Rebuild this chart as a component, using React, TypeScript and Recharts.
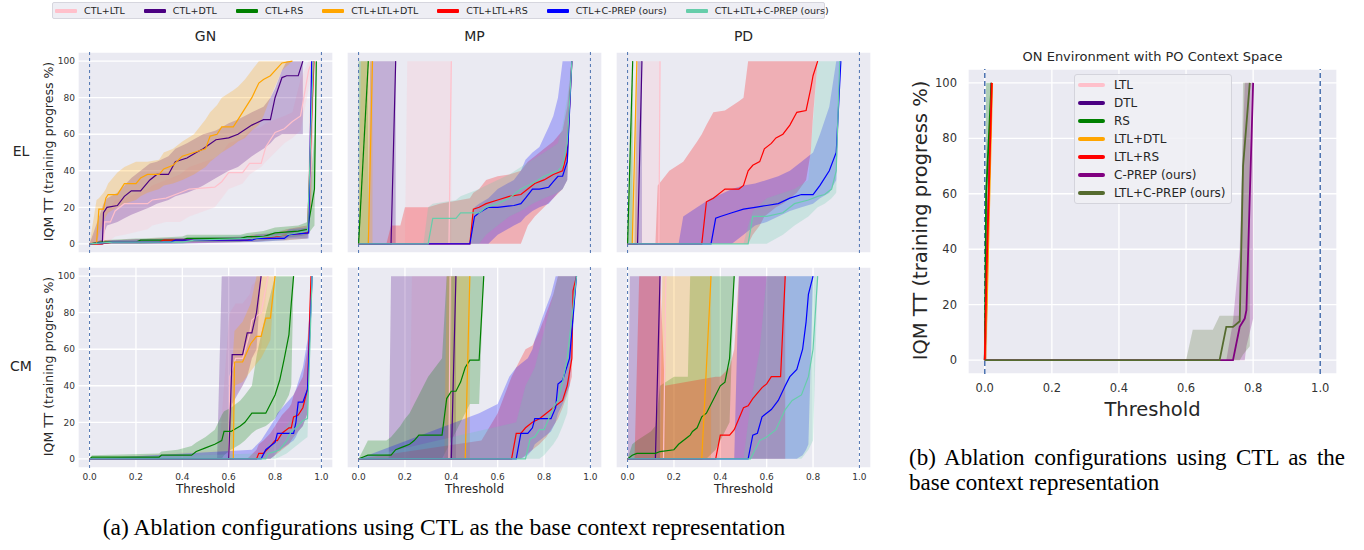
import React from "react";
import { ComposedChart, Area, Line, XAxis, YAxis, CartesianGrid, ReferenceLine } from "recharts";

// each point: [threshold, IQM training progress %, band low, band high]
type Pt = [number, number, number, number];

const ctlNames = ["CTL+LTL", "CTL+DTL", "CTL+RS", "CTL+LTL+DTL", "CTL+LTL+RS", "CTL+C-PREP (ours)", "CTL+LTL+C-PREP (ours)"];
const ctlColors = ["#ffc0cb", "#4b0082", "#008000", "#ffa500", "#ff0000", "#0000ff", "#66cdaa"];
const onNames = ["LTL", "DTL", "RS", "LTL+DTL", "LTL+RS", "C-PREP (ours)", "LTL+C-PREP (ours)"];
const onColors = ["#ffc0cb", "#4b0082", "#008000", "#ffa500", "#ff0000", "#800080", "#556b2f"];
const thresholdTicks = [0, 0.2, 0.4, 0.6, 0.8, 1.0];
const progressTicks = [0, 20, 40, 60, 80, 100];
const columnTitles = ["GN", "MP", "PD"];
const rowTitles = ["EL", "CM"];

// order of series: LTL, DTL, RS, LTL+DTL, LTL+RS, C-PREP, LTL+C-PREP
const gnEl: Pt[][] = [
  [[0,0,0,0],[0.06,0,0,15],[0.065,12,0,18],[0.09,12,2,20],[0.11,18,4,24],[0.15,22,5,25],[0.25,22,8,30],[0.27,24,10,32],[0.33,25,12,35],[0.39,28,12,38],[0.43,30,15,42],[0.54,31,20,47],[0.57,34,25,50],[0.6,39,30,55],[0.66,39,33,58],[0.69,44,38,62],[0.74,44,42,64],[0.76,53,45,66],[0.8,61,50,68],[0.84,63,55,70],[0.875,67,58,72],[0.91,70,62,90],[0.945,95,85,100],[0.96,100,100,100]],
  [[0,0,0,0],[0.055,0,0,20],[0.06,17,5,22],[0.075,20,10,25],[0.12,21,12,28],[0.15,26,14,32],[0.18,29,16,36],[0.22,29,18,40],[0.26,35,20,44],[0.29,38,22,45],[0.34,38,24,48],[0.37,45,26,52],[0.42,47,28,55],[0.46,50,30,58],[0.49,52,32,60],[0.545,57,36,62],[0.6,58,40,66],[0.64,60,42,68],[0.7,65,48,72],[0.75,68,52,75],[0.78,68,55,80],[0.8,80,58,85],[0.83,91,60,95],[0.85,92,60,100],[0.9,92,60,100],[0.92,100,60,100]],
  [[0,0,0,0],[0.05,1,0,2],[0.2,1,0,3],[0.22,2,0,3],[0.4,2,1,4],[0.42,3,1,5],[0.65,3,1,5],[0.68,4,2,6],[0.75,4,2,7],[0.8,6,3,9],[0.9,7,4,10],[0.94,8,5,12],[0.97,30,10,60],[0.978,100,100,100]],
  [[0,0,0,0],[0.03,0,0,24],[0.04,19,5,25],[0.06,19,12,28],[0.07,25,15,30],[0.08,27,17,33],[0.12,27,20,39],[0.15,33,22,42],[0.2,33,24,45],[0.22,36,26,45],[0.25,38,28,45],[0.3,38,30,46],[0.32,41,32,50],[0.36,43,33,52],[0.4,48,35,56],[0.45,50,38,60],[0.5,52,42,68],[0.52,59,45,72],[0.55,60,48,76],[0.57,64,50,80],[0.62,64,54,84],[0.64,68,56,86],[0.67,74,58,90],[0.7,80,62,95],[0.73,88,65,100],[0.75,90,70,100],[0.78,92,80,100],[0.83,99,95,100],[0.875,100,100,100]],
  [[0,0,0,0],[0.05,0,0,2],[0.1,1,0,2],[0.3,1,0,3],[0.32,2,0,3],[0.68,2,1,4],[0.7,3,1,5],[0.8,4,2,6],[0.85,5,2,8],[0.94,6,3,10],[0.955,60,20,100],[0.968,100,100,100]],
  [[0,0,0,0],[0.1,1,0,2],[0.35,1,0,3],[0.37,2,0,3],[0.7,2,1,4],[0.72,3,1,5],[0.84,3,2,6],[0.86,5,3,8],[0.945,6,3,9],[0.958,100,100,100]],
  [[0,0,0,0],[0.1,1,0,2],[0.4,1,0,3],[0.45,2,1,4],[0.7,3,1,5],[0.85,5,2,8],[0.94,7,3,10],[0.965,100,100,100]],
];

const mpEl: Pt[][] = [
  [[0,0,0,0],[0.2,0,0,0],[0.21,0,0,100],[0.39,0,0,100],[0.4,100,0,100]],
  [[0,0,0,0],[0.04,0,0,0],[0.05,0,0,100],[0.14,0,0,100],[0.16,100,0,100]],
  [[0,0,0,100],[0.042,100,0,100]],
  [[0,0,0,0],[0.01,0,0,100],[0.042,0,0,100],[0.06,100,0,100]],
  [[0,0,0,0],[0.12,0,0,0],[0.14,0,0,10],[0.18,0,0,10],[0.2,0,0,20],[0.3,0,0,20],[0.35,0,0,22],[0.48,0,0,25],[0.495,19,0,28],[0.52,20,0,30],[0.55,22,0,35],[0.6,24,0,37],[0.65,26,0,38],[0.7,27,0,40],[0.73,30,10,45],[0.76,33,15,48],[0.8,35,20,52],[0.84,38,25,56],[0.88,40,30,62],[0.9,50,35,75],[0.92,100,100,100]],
  [[0,0,0,0],[0.48,0,0,0],[0.5,15,0,20],[0.52,17,0,22],[0.56,20,0,25],[0.6,20,5,30],[0.67,21,10,35],[0.7,22,12,40],[0.72,25,15,46],[0.75,30,18,50],[0.78,30,20,53],[0.82,31,22,64],[0.84,34,25,70],[0.86,37,28,80],[0.88,37,30,100],[0.9,45,35,100],[0.92,100,100,100]],
  [[0,0,0,0],[0.28,0,0,0],[0.3,0,0,20],[0.32,14,0,22],[0.42,14,0,24],[0.44,17,0,26],[0.52,17,0,30],[0.55,20,5,32],[0.6,22,10,35],[0.65,25,15,38],[0.7,30,18,42],[0.75,33,22,46],[0.8,37,25,50],[0.86,40,28,55],[0.88,43,30,65],[0.9,55,35,80],[0.92,100,100,100]],
];

const pdEl: Pt[][] = [
  [[0,0,0,0],[0.06,0,0,0],[0.065,0,0,100],[0.135,0,0,100],[0.14,100,0,100]],
  [[0,0,0,0],[0.03,0,0,0],[0.043,0,0,100],[0.062,100,0,100]],
  [[0,0,0,0],[0.022,100,0,100]],
  [[0,0,0,0],[0.02,0,0,0],[0.04,100,0,100]],
  [[0,0,0,0],[0.12,0,0,0],[0.13,0,0,32],[0.18,0,0,40],[0.24,0,0,45],[0.3,0,0,56],[0.32,0,0,60],[0.34,23,0,65],[0.37,25,0,72],[0.42,30,0,73],[0.48,30,0,78],[0.5,32,0,80],[0.52,40,0,100],[0.54,43,5,100],[0.57,45,10,100],[0.59,52,15,100],[0.62,55,18,100],[0.64,58,20,100],[0.67,60,22,100],[0.7,65,25,100],[0.73,72,28,100],[0.77,73,35,100],[0.79,85,50,100],[0.8,92,70,100],[0.82,100,100,100]],
  [[0,0,0,0],[0.22,0,0,0],[0.24,0,0,15],[0.3,0,0,20],[0.36,0,0,25],[0.38,14,0,26],[0.4,15,0,27],[0.45,17,0,30],[0.5,19,5,32],[0.55,20,10,33],[0.6,21,12,35],[0.65,22,15,37],[0.7,25,18,40],[0.75,27,20,45],[0.8,27,22,50],[0.83,32,25,60],[0.87,40,28,75],[0.9,50,35,100],[0.92,100,100,100]],
  [[0,0,0,0],[0.5,0,0,0],[0.52,0,0,10],[0.54,15,0,18],[0.6,15,0,25],[0.67,17,5,28],[0.72,22,10,30],[0.78,24,15,35],[0.82,26,20,100],[0.85,27,22,100],[0.88,30,25,100],[0.9,40,28,100],[0.915,100,100,100]],
];

const gnCm: Pt[][] = [
  [[0,0,0,0],[0.56,0,0,5],[0.6,0,0,75],[0.605,45,10,80],[0.63,55,35,85],[0.66,55,40,85],[0.69,68,50,90],[0.7,76,55,95],[0.74,80,60,100],[0.77,100,100,100]],
  [[0,0,0,0],[0.55,0,0,0],[0.57,0,0,100],[0.6,0,0,100],[0.615,57,30,100],[0.66,57,40,100],[0.68,69,45,100],[0.7,69,55,100],[0.72,80,60,100],[0.74,100,100,100]],
  [[0,0,0,0],[0.01,1,0,2],[0.3,1,0,3],[0.31,2,0,4],[0.38,2,0,5],[0.44,2,0,7],[0.46,4,0,9],[0.5,6,0,12],[0.54,8,0,16],[0.57,10,0,24],[0.58,15,2,26],[0.61,15,5,28],[0.65,18,8,32],[0.67,20,10,35],[0.7,25,14,40],[0.72,25,16,56],[0.76,25,18,80],[0.8,35,22,100],[0.82,43,26,100],[0.84,55,30,100],[0.86,68,35,100],[0.87,85,40,100],[0.88,100,100,100]],
  [[0,0,0,0],[0.6,0,0,0],[0.62,0,0,60],[0.625,53,40,70],[0.66,53,42,75],[0.695,63,48,85],[0.72,67,52,100],[0.74,67,55,100],[0.76,77,60,100],[0.78,77,65,100],[0.8,100,100,100]],
  [[0,0,0,0],[0.68,0,0,0],[0.72,0,0,5],[0.73,3,0,8],[0.75,3,0,10],[0.78,7,0,14],[0.8,10,2,18],[0.81,10,3,20],[0.83,14,5,24],[0.86,17,8,28],[0.87,17,10,30],[0.88,23,12,35],[0.9,24,15,40],[0.92,28,18,45],[0.94,38,25,60],[0.955,100,100,100]],
  [[0,0,0,0],[0.7,0,0,5],[0.74,0,0,10],[0.76,5,0,14],[0.78,7,0,18],[0.8,9,2,22],[0.81,14,4,25],[0.88,14,10,35],[0.89,20,12,38],[0.9,31,15,42],[0.92,31,18,50],[0.94,38,25,65],[0.96,100,100,100]],
  [[0,0,0,0],[0.74,0,0,3],[0.76,0,0,5],[0.77,3,0,8],[0.8,4,0,10],[0.82,5,1,12],[0.85,10,3,18],[0.87,15,5,22],[0.9,18,8,28],[0.92,21,10,32],[0.94,22,12,40],[0.96,100,100,100]],
];

const mpCm: Pt[][] = [
  [[0,0,0,0],[0.22,0,0,0],[0.23,0,0,100],[0.39,0,0,100],[0.395,100,0,100]],
  [[0,0,0,0],[0.13,0,0,0],[0.14,0,0,100],[0.4,0,0,100],[0.42,100,0,100]],
  [[0,0,0,0],[0.02,1,0,5],[0.04,2,0,10],[0.12,2,0,10],[0.14,2,0,12],[0.16,5,0,15],[0.18,6,0,18],[0.2,7,0,22],[0.22,8,0,25],[0.24,10,0,30],[0.26,13,0,35],[0.3,13,0,45],[0.36,13,0,55],[0.38,33,5,100],[0.4,37,10,100],[0.42,37,15,100],[0.44,42,20,100],[0.46,50,25,100],[0.48,54,30,100],[0.52,54,30,100],[0.54,100,100,100]],
  [[0,0,0,0],[0.37,0,0,0],[0.38,0,0,100],[0.46,0,0,100],[0.48,100,0,100]],
  [[0,0,0,0],[0.53,0,0,10],[0.6,0,0,25],[0.66,0,0,45],[0.68,14,0,50],[0.7,14,0,55],[0.72,17,2,60],[0.75,20,5,62],[0.78,22,8,70],[0.81,25,12,80],[0.84,28,18,90],[0.86,30,22,100],[0.88,32,28,100],[0.9,40,35,100],[0.92,55,45,100],[0.925,92,80,100],[0.94,100,100,100]],
  [[0,0,0,0],[0.52,0,0,25],[0.6,0,0,30],[0.65,0,0,45],[0.68,0,0,50],[0.7,14,0,52],[0.73,14,2,55],[0.75,17,5,60],[0.76,22,8,65],[0.8,22,12,80],[0.83,22,15,90],[0.85,28,20,100],[0.86,41,25,100],[0.88,43,30,100],[0.91,55,40,100],[0.94,100,100,100]],
  [[0,0,0,0],[0.68,0,0,20],[0.72,0,0,40],[0.74,11,0,45],[0.76,12,0,50],[0.78,16,0,60],[0.8,16,2,70],[0.82,22,5,80],[0.84,28,8,90],[0.86,32,12,100],[0.88,42,18,100],[0.9,55,25,100],[0.94,100,100,100]],
];

const pdCm: Pt[][] = [
  [[0,0,0,0],[0.13,0,0,0],[0.14,0,0,100],[0.155,0,0,100],[0.165,100,0,100]],
  [[0,0,0,0],[0.01,0,0,100],[0.12,0,0,100],[0.14,100,0,100]],
  [[0,0,0,0],[0.02,2,0,8],[0.04,3,0,10],[0.1,3,0,15],[0.12,3,0,18],[0.14,4,0,40],[0.2,5,0,45],[0.22,8,0,45],[0.26,12,0,45],[0.27,13,0,100],[0.28,15,0,100],[0.3,17,0,100],[0.32,23,0,100],[0.34,25,0,100],[0.38,35,5,100],[0.4,40,10,100],[0.42,42,15,100],[0.44,55,20,100],[0.46,100,100,100]],
  [[0,0,0,0],[0.14,0,0,0],[0.15,0,0,100],[0.32,0,0,100],[0.36,100,0,100]],
  [[0,0,0,0],[0.03,0,0,0],[0.05,0,0,100],[0.14,0,0,100],[0.16,0,0,40],[0.38,0,0,45],[0.4,13,0,45],[0.44,13,0,50],[0.46,16,0,60],[0.48,22,0,100],[0.5,28,0,100],[0.52,29,0,100],[0.54,33,0,100],[0.58,39,0,100],[0.6,41,0,100],[0.62,45,0,100],[0.66,45,0,100],[0.68,100,0,100]],
  [[0,0,0,0],[0.46,0,0,0],[0.48,0,0,100],[0.52,0,0,100],[0.54,13,0,100],[0.56,14,0,100],[0.58,23,0,100],[0.62,27,0,100],[0.65,32,0,100],[0.68,40,0,100],[0.7,45,0,100],[0.73,49,0,100],[0.755,60,2,100],[0.77,75,5,100],[0.78,90,8,100],[0.8,100,100,100]],
  [[0,0,0,0],[0.5,0,0,0],[0.53,0,0,30],[0.57,10,0,60],[0.6,12,0,100],[0.64,16,0,100],[0.68,27,0,100],[0.71,32,0,100],[0.75,35,0,100],[0.78,45,5,100],[0.8,60,10,100],[0.82,100,100,100]],
];

const onPo: Pt[][] = [
  [[0,0,0,0],[0.02,100,100,100]],
  [[0,0,0,0],[0.02,100,100,100]],
  [[0,0,0,0],[0.004,60,0,100],[0.02,100,100,100]],
  [[0,0,0,0],[0.006,20,0,40],[0.022,100,100,100]],
  [[0,0,0,0],[0.005,30,0,50],[0.021,100,100,100]],
  [[0,0,0,0],[0.72,0,0,0],[0.74,0,0,14],[0.76,12,0,40],[0.775,15,0,100],[0.78,18,5,100],[0.8,100,15,100]],
  [[0,0,0,0],[0.6,0,0,0],[0.62,0,0,11],[0.68,0,0,11],[0.7,0,0,16],[0.72,12,0,16],[0.74,12,0,16],[0.76,14,0,16],[0.77,70,2,100],[0.79,100,5,100]],
];

const leftGrid = [[gnEl, mpEl, pdEl], [gnCm, mpCm, pdCm]];
const colX = [78, 347, 616];
const rowY = [52, 267];

const toRows = (s: Pt[]) => s.map(([x, y, lo, hi]) => ({ x, y, band: [lo, hi] }));

type PanelProps = {
  series: Pt[][]; colors: string[]; left: number; top: number; w: number; h: number;
  yw: number; xh: number; font: number; gapX: number; gapY: number; lineW: number; refW: number;
};

function Panel({ series, colors, left, top, w, h, yw, xh, font, gapX, gapY, lineW, refW }: PanelProps) {
  const tickStyle = { fill: "#333", fontSize: font, fontFamily: "DejaVu Sans" };
  const dash = refW > 1.2 ? "5 3" : "3 3";
  return (
    <div style={{ position: "absolute", left: left - yw, top }}>
      <ComposedChart width={w + yw} height={h + xh} margin={{ top: 0, right: 0, bottom: 0, left: 0 }}>
        <CartesianGrid fill="#eaeaf2" fillOpacity={1} stroke="#ffffff" strokeWidth={1.3} />
        <XAxis dataKey="x" type="number" domain={[-0.05, 1.05]} ticks={thresholdTicks} allowDataOverflow
          height={xh} tick={xh ? tickStyle : false} tickFormatter={(v: number) => v.toFixed(1)}
          axisLine={false} tickLine={false} tickSize={0} tickMargin={gapX} />
        <YAxis type="number" domain={[-5, 105]} ticks={progressTicks} allowDataOverflow
          width={yw} tick={yw ? tickStyle : false} axisLine={false} tickLine={false} tickSize={0} tickMargin={gapY} />
        {series.map((s, i) => (
          <Area key={"band" + i} data={toRows(s)} dataKey="band" type="linear" stroke="none"
            fill={colors[i]} fillOpacity={0.25} isAnimationActive={false} />
        ))}
        <ReferenceLine x={0} stroke="#4c72b0" strokeDasharray={dash} strokeWidth={refW} />
        <ReferenceLine x={1} stroke="#4c72b0" strokeDasharray={dash} strokeWidth={refW} />
        {series.map((s, i) => (
          <Line key={"line" + i} data={toRows(s)} dataKey="y" type="linear" stroke={colors[i]}
            strokeWidth={lineW} dot={false} isAnimationActive={false} />
        ))}
      </ComposedChart>
    </div>
  );
}

const txt = (extra: React.CSSProperties): React.CSSProperties => ({
  position: "absolute", fontFamily: "DejaVu Sans", color: "#262626", whiteSpace: "nowrap", ...extra,
});

export default function App() {
  return (
    <div style={{ position: "absolute", left: 0, top: 0, width: 1364, height: 550, background: "#fff", overflow: "hidden" }}>
      {/* top legend */}
      <div style={{ position: "absolute", left: 52, top: 2, width: 771, height: 15, background: "#eeeef4",
        border: "1px solid #d6d6de", borderRadius: 2, display: "flex", alignItems: "center" }}>
        {ctlNames.map((n, i) => (
          <div key={n} style={{ display: "flex", alignItems: "center", flexShrink: 0, marginLeft: i ? 19 : 2 }}>
            <div style={{ width: 22, height: 4, background: ctlColors[i], borderRadius: 1, flexShrink: 0 }} />
            <span style={{ marginLeft: 7, fontFamily: "DejaVu Sans", fontSize: 9.5, color: "#262626", whiteSpace: "nowrap" }}>{n}</span>
          </div>
        ))}
      </div>

      {columnTitles.map((t, c) => (
        <div key={t} style={txt({ left: colX[c], width: 255, top: 28, textAlign: "center", fontSize: 14 })}>{t}</div>
      ))}
      {rowTitles.map((t, r) => (
        <div key={t} style={txt({ left: 0, width: 42, top: rowY[r] + 91, textAlign: "center", fontSize: 14 })}>{t}</div>
      ))}
      {rowTitles.map((t, r) => (
        <div key={"yl" + t} style={txt({ left: 48 - 100, width: 200, top: rowY[r] + 100 - 8, textAlign: "center",
          fontSize: 12.5, transform: "rotate(-90deg)" })}>IQM TT (training progress %)</div>
      ))}
      {columnTitles.map((t, c) => (
        <div key={"xl" + t} style={txt({ left: colX[c], width: 255, top: 482, textAlign: "center", fontSize: 12 })}>Threshold</div>
      ))}

      {leftGrid.map((row, r) => row.map((series, c) => (
        <Panel key={r + "-" + c} series={series} colors={ctlColors} left={colX[c]} top={rowY[r]} w={255} h={201}
          yw={c === 0 ? 30 : 0} xh={r === 1 ? 20 : 0} font={9} gapX={6} gapY={3} lineW={1.2} refW={1} />
      )))}

      {/* right panel */}
      <div style={txt({ left: 968, width: 369, top: 49, textAlign: "center", fontSize: 13 })}>ON Environment with PO Context Space</div>
      <Panel series={onPo} colors={onColors} left={968} top={69} w={369} h={305} yw={50} xh={30}
        font={11.5} gapX={10} gapY={11} lineW={1.8} refW={1.5} />
      <div style={txt({ left: 920 - 160, width: 320, top: 221 - 12, textAlign: "center", fontSize: 19.5,
        transform: "rotate(-90deg)" })}>IQM TT (training progress %)</div>
      <div style={txt({ left: 968, width: 369, top: 398, textAlign: "center", fontSize: 19.5 })}>Threshold</div>
      <div style={{ position: "absolute", left: 1074, top: 74, width: 156, height: 128, background: "rgba(240,240,245,0.85)",
        border: "1px solid #d4d4dc", borderRadius: 3 }}>
        {onNames.map((n, i) => (
          <div key={n} style={{ position: "absolute", left: 3, top: 2 + i * 18, height: 16, display: "flex", alignItems: "center" }}>
            <div style={{ width: 27, height: 4.5, background: onColors[i], borderRadius: 2 }} />
            <span style={{ marginLeft: 9, fontFamily: "DejaVu Sans", fontSize: 12, color: "#262626", whiteSpace: "nowrap" }}>{n}</span>
          </div>
        ))}
      </div>

      {/* captions */}
      <div style={{ position: "absolute", left: 0, width: 888, top: 513, textAlign: "center", lineHeight: "28px",
        fontFamily: "Liberation Serif", fontSize: 23.5, color: "#000" }}>
        (a) Ablation configurations using CTL as the base context representation
      </div>
      <div style={{ position: "absolute", left: 909, width: 436, top: 445, textAlign: "justify", lineHeight: "25px",
        fontFamily: "Liberation Serif", fontSize: 23, color: "#000" }}>
        (b) Ablation configurations using CTL as the base context representation
      </div>
    </div>
  );
}
